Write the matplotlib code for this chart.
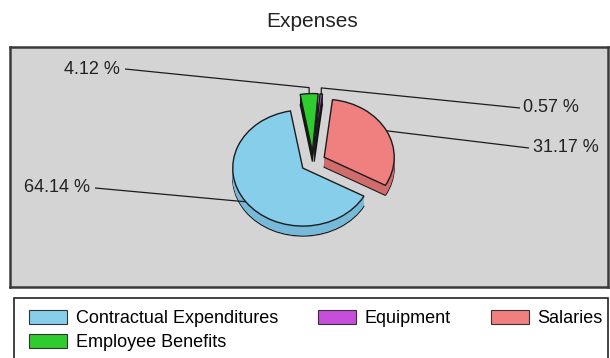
import numpy as np
import matplotlib.pyplot as plt
from matplotlib.patches import Patch, Rectangle

# slices, listed clockwise from the lower right
categories = ["Contractual Expenditures", "Employee Benefits", "Equipment", "Salaries"]
shares = [64.14, 4.12, 0.57, 31.17]
top_colors = ["#87ceeb", "#2fcc2f", "#c54fd8", "#f08080"]
side_colors = ["#76b9d8", "#0e1a0e", "#111111", "#d06c6c"]

plt.rcParams['font.family'] = ['Liberation Sans', 'DejaVu Sans']

W, H = 610, 358
fig = plt.figure(figsize=(W / 100, H / 100), dpi=100)
fig.patch.set_facecolor('white')

# grey plot box (pixel edges)
bx0, by0, bx1, by1 = 10, 47, 608, 287
ax = fig.add_axes([bx0 / W, 1 - by1 / H, (bx1 - bx0) / W, (by1 - by0) / H])

# pie centre and radii in pixels; one data unit = one radius
cx, cy, rx, ry = 313, 162, 70, 58
depth = 10 / ry
explode = [0.18] * len(shares)
start = -29


def to_data(x, y):
    return (x - cx) / rx, (cy - y) / ry


# side of the disc: stacked copies of the pie, shifted downwards
n_layers = 14
for i in range(n_layers):
    dy = -depth * (1 - i / n_layers)
    ax.pie(shares, explode=explode, colors=side_colors, startangle=start,
           counterclock=False, center=(0, dy), normalize=True,
           wedgeprops=dict(linewidth=0.9 if i == 0 else 0, edgecolor='#1c1c1c'))

tops, _ = ax.pie(shares, explode=explode, colors=top_colors, startangle=start,
                 counterclock=False, normalize=True,
                 wedgeprops=dict(linewidth=1.0, edgecolor='#1c1c1c'))

# value labels with leader lines
label_pos = [(90, 188, 'right'), (120, 69, 'right'), (523, 108, 'left'), (533, 148, 'left')]
line_gap = [5, 5, -3, -4]
elbow = [0, 6, 6, 0]
for w, v, (lx, ly, ha), gap, el in zip(tops, shares, label_pos, line_gap, elbow):
    th = np.deg2rad((w.theta1 + w.theta2) / 2)
    ax_, ay_ = w.center[0] + w.r * np.cos(th), w.center[1] + w.r * np.sin(th)
    tx, ty = to_data(lx, ly)
    gx, _ = to_data(lx + gap, ly)
    xs = [gx, ax_, ax_]
    ys = [ty, ay_ + el / ry, ay_]
    ax.plot(xs, ys, color='#1c1c1c', lw=0.9, solid_capstyle='butt')
    ax.text(tx, ty, f"{v:.2f} %", ha=ha, va='center', fontsize=13, color='#222222')

x0, y1 = to_data(bx0, by0)
x1, y0 = to_data(bx1, by1)
ax.set_aspect('auto')
ax.set_xlim(x0, x1)
ax.set_ylim(y0, y1)
ax.set_frame_on(True)
ax.set_facecolor('#d4d4d4')
ax.set_xticks([])
ax.set_yticks([])
for s in ax.spines.values():
    s.set_color('#3a3a3a')
    s.set_linewidth(1.8)

fig.text(312 / W, 1 - 27 / H, "Expenses", ha='center', va='baseline',
         fontsize=15, color='#222222')

# legend box, running past the bottom edge
fig.patches.append(Rectangle((14 / W, -0.05), (608 - 14) / W, 0.05 + 1 - 298 / H,
                             transform=fig.transFigure, facecolor='white',
                             edgecolor='#222222', lw=1.2))
handles = [Patch(facecolor=top_colors[i], edgecolor='#333333', lw=0.8) for i in range(4)]
fig.legend(handles, categories, ncol=3, loc='upper left',
           bbox_to_anchor=(29 / W, 1 - 310 / H), frameon=False,
           fontsize=13, borderpad=0, borderaxespad=0, handlelength=2.1,
           handleheight=0.85, handletextpad=0.5, columnspacing=2.2,
           labelspacing=0.35)

fig.savefig('out.png', dpi=100)
